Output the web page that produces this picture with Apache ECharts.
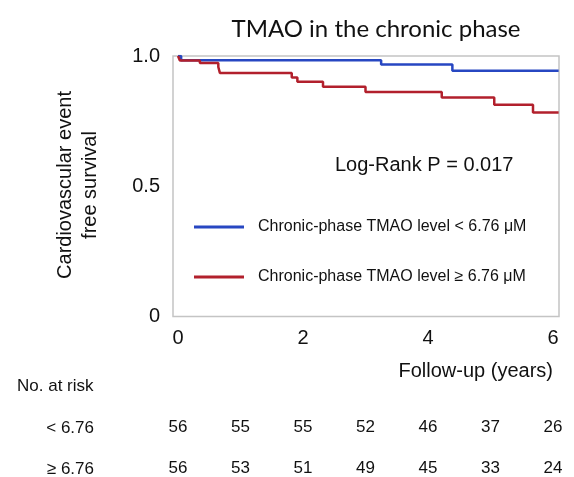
<!DOCTYPE html>
<html>
<head>
<meta charset="utf-8">
<script src="https://cdn.jsdelivr.net/npm/echarts@6/dist/echarts.min.js"></script>
<style>html,body{margin:0;padding:0;background:#fff;}#c{width:574px;height:477px;}</style>
</head>
<body>
<div id="c"></div>
<script>
// Kaplan-Meier steps (time in years, survival after the step)
var blueTimes = [0, 0.05, 3.25, 4.39, 6.09];
var blueSurv  = [1.0, 0.984, 0.967, 0.943, 0.943];
var redTimes  = [0, 0.03, 0.35, 0.645, 0.67, 1.82, 1.91, 2.32, 3.0, 4.22, 5.06, 5.68, 6.09];
var redSurv   = [1.0, 0.983, 0.973, 0.958, 0.935, 0.917, 0.901, 0.882, 0.862, 0.841, 0.813, 0.783, 0.783];
var xTicks = [0, 2, 4, 6];
var yTicks = [0, 0.5, 1.0];
var yTickLabels = ['0', '0.5', '1.0'];
var riskTimes = [0, 1, 2, 3, 4, 5, 6];
var riskLow  = [56, 55, 55, 52, 46, 37, 26];
var riskHigh = [56, 53, 51, 49, 45, 33, 24];
var seriesNames = ['Chronic-phase TMAO level < 6.76 \u03bcM', 'Chronic-phase TMAO level \u2265 6.76 \u03bcM'];
var rowNames = ['< 6.76', '\u2265 6.76'];

function pairs(t, s) { return t.map(function (v, i) { return [v, s[i]]; }); }

var FONT = '"Liberation Sans", Arial, sans-serif';
var chart = echarts.init(document.getElementById('c'));

function riskAxis(offset, values) {
  return {
    type: 'value', gridIndex: 0, position: 'bottom', offset: offset,
    min: -0.08, max: 6.096,
    axisLine: { show: false }, axisTick: { show: false }, splitLine: { show: false },
    axisLabel: {
      customValues: riskTimes, margin: 0, verticalAlign: 'middle',
      fontFamily: FONT, fontSize: 17, color: '#111',
      formatter: function (v) { return String(values[Math.round(v)]); }
    }
  };
}

chart.setOption({
  animation: false,
  backgroundColor: '#fff',
  title: {
    text: 'TMAO in the chronic phase', left: 371, top: 12, textAlign: 'center',
    textStyle: { fontFamily: 'Lato, "Open Sans", sans-serif', fontWeight: 'normal', fontSize: 24, color: '#111' }
  },
  grid: { left: 173, right: 15, top: 56, bottom: 160, show: true, borderColor: '#c4c4c4', borderWidth: 1.5, backgroundColor: 'transparent' },
  legend: {
    orient: 'vertical', left: 194, top: 219, padding: 0, itemWidth: 50, itemHeight: 3, itemGap: 34, icon: 'rect',
    textStyle: { fontFamily: FONT, fontSize: 16, color: '#111', padding: [0, 0, 0, 9] },
    data: seriesNames
  },
  xAxis: [
    {
      type: 'value', min: -0.08, max: 6.096,
      axisLine: { show: false }, axisTick: { show: false }, splitLine: { show: false },
      axisLabel: { customValues: xTicks, margin: 12, fontFamily: FONT, fontSize: 20, color: '#111' }
    },
    riskAxis(111, riskLow),
    riskAxis(152, riskHigh)
  ],
  yAxis: {
    type: 'value', min: 0, max: 1,
    axisLine: { show: false }, axisTick: { show: false }, splitLine: { show: false },
    axisLabel: {
      customValues: yTicks, margin: 13, fontFamily: FONT, fontSize: 20, color: '#111',
      formatter: function (v) { return yTickLabels[yTicks.indexOf(v)]; }
    }
  },
  series: [
    { name: seriesNames[0], type: 'line', step: 'end', showSymbol: false, data: pairs(blueTimes, blueSurv),
      lineStyle: { color: '#2747c2', width: 2.5 }, itemStyle: { color: '#2747c2' } },
    { name: seriesNames[1], type: 'line', step: 'end', showSymbol: false, data: pairs(redTimes, redSurv),
      lineStyle: { color: '#b2202c', width: 2.5 }, itemStyle: { color: '#b2202c' } }
  ],
  graphic: [
    { type: 'text', x: 78, y: 185, rotation: Math.PI / 2,
      style: { text: 'Cardiovascular event\nfree survival', font: '20px ' + FONT, fill: '#111', align: 'center', verticalAlign: 'middle', lineHeight: 25 } },
    { type: 'text', x: 335, y: 165,
      style: { text: 'Log-Rank P = 0.017', font: '20px ' + FONT, fill: '#111', align: 'left', verticalAlign: 'middle' } },
    { type: 'text', x: 553, y: 371,
      style: { text: 'Follow-up (years)', font: '20px ' + FONT, fill: '#111', align: 'right', verticalAlign: 'middle' } },
    { type: 'text', x: 17, y: 386,
      style: { text: 'No. at risk', font: '17px ' + FONT, fill: '#111', align: 'left', verticalAlign: 'middle' } },
    { type: 'text', x: 94, y: 428,
      style: { text: rowNames[0], font: '17px ' + FONT, fill: '#111', align: 'right', verticalAlign: 'middle' } },
    { type: 'text', x: 94, y: 469,
      style: { text: rowNames[1], font: '17px ' + FONT, fill: '#111', align: 'right', verticalAlign: 'middle' } }
  ]
});
</script>
</body>
</html>
